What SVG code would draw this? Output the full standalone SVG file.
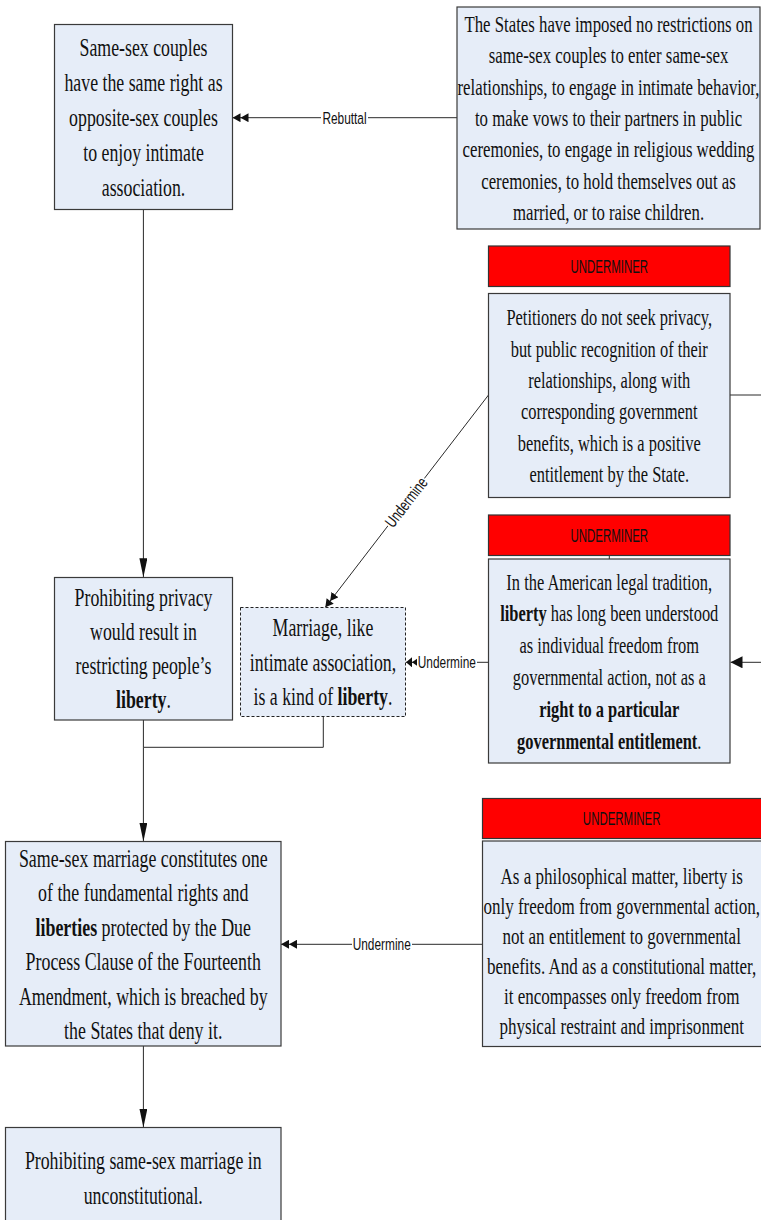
<svg xmlns="http://www.w3.org/2000/svg" width="761" height="1220" viewBox="0 0 761 1220">
<style>
.box{fill:#E6EDF8;stroke:#3a3a3a;stroke-width:1.2}
.dash{fill:#E6EDF8;stroke:#222;stroke-width:1;stroke-dasharray:3 2}
.red{fill:#FF0000;stroke:#333;stroke-width:1.2}
.t{font-family:"Liberation Serif","Times New Roman",serif;fill:#111;text-anchor:middle}
.f26{font-size:26px}
.f24{font-size:24px}
.b{font-weight:bold}
.hd{font-family:"Liberation Sans",Arial,sans-serif;font-size:18.5px;fill:#111;text-anchor:middle}
.lbl{font-family:"Liberation Sans",Arial,sans-serif;font-size:16.5px;fill:#111;text-anchor:middle}
.ln{fill:none;stroke:#2a2a2a;stroke-width:1}
</style>
<defs>
<marker id="arrDown" markerUnits="userSpaceOnUse" markerWidth="19" markerHeight="8" refX="19" refY="4" orient="auto">
<path d="M0,0 L19,4 L0,8 Z" fill="#111"/>
</marker>
<marker id="dbl" markerUnits="userSpaceOnUse" markerWidth="16" markerHeight="9" refX="16" refY="4.5" orient="auto">
<path d="M0,0 L8,4.5 L0,9 Z M8,0 L16,4.5 L8,9 Z" fill="#111"/>
</marker>
<marker id="dblS" markerUnits="userSpaceOnUse" markerWidth="11" markerHeight="10" refX="11" refY="5" orient="auto">
<path d="M0,1.5 L5,5 L0,8.5 Z M5,0 L11,5 L5,10 Z" fill="#111"/>
</marker>
<marker id="single" markerUnits="userSpaceOnUse" markerWidth="12" markerHeight="12" refX="12" refY="6" orient="auto">
<path d="M0,0 L12,6 L0,12 Z" fill="#111"/>
</marker>
</defs>

<g id="connectors">
<path class="ln" d="M143.4,209.5 V577.3" marker-end="url(#arrDown)"/>
<path class="ln" d="M143.4,720 V747.3 M323.3,716.7 V747.3 H143.4"/>
<path class="ln" d="M143.4,747.3 V841.5" marker-end="url(#arrDown)"/>
<path class="ln" d="M143.4,1046 V1127.5" marker-end="url(#arrDown)"/>
<path class="ln" d="M457,117.7 H232.5" marker-end="url(#dbl)"/>
<rect x="321" y="110" width="47" height="15" fill="#fff"/>
<text class="lbl" transform="translate(344.5,123.6) scale(0.72,1)">Rebuttal</text>
<path class="ln" d="M488.5,395 L325.3,607.3" marker-end="url(#dbl)"/>
<g transform="translate(406,502) rotate(-52.4)">
<rect x="-30" y="-7.5" width="60" height="15" fill="#fff"/>
<text class="lbl" transform="scale(0.72,1)" y="6">Undermine</text>
</g>
<path class="ln" d="M488.5,662.3 H406" marker-end="url(#dblS)"/>
<rect x="417" y="655" width="60" height="15" fill="#fff"/>
<text class="lbl" transform="translate(446.8,668.2) scale(0.72,1)">Undermine</text>
<path class="ln" d="M730,395 H780 V662.3 H730.5" marker-end="url(#single)"/>
<path class="ln" d="M482.5,944.3 H281" marker-end="url(#dbl)"/>
<rect x="352" y="937" width="60" height="15" fill="#fff"/>
<text class="lbl" transform="translate(381.7,950.2) scale(0.72,1)">Undermine</text>
<path class="ln" d="M609.3,555.7 V559"/>
</g>

<g id="node-intimate">
<rect class="box" x="54.5" y="24.5" width="178" height="185"/>
<g class="t f26" transform="translate(143.5,0) scale(0.685,1)">
<text y="55.6">Same-sex couples</text>
<text y="90.6">have the same right as</text>
<text y="125.6">opposite-sex couples</text>
<text y="160.6">to enjoy intimate</text>
<text y="195.6">association.</text>
</g>
</g>

<g id="node-states">
<rect class="box" x="457" y="7" width="303" height="222"/>
<g class="t f24" transform="translate(608.5,0) scale(0.7,1)">
<text y="31.8">The States have imposed no restrictions on</text>
<text y="63.2">same-sex couples to enter same-sex</text>
<text y="94.6">relationships, to engage in intimate behavior,</text>
<text y="126">to make vows to their partners in public</text>
<text y="157.4">ceremonies, to engage in religious wedding</text>
<text y="188.8">ceremonies, to hold themselves out as</text>
<text y="220.2">married, or to raise children.</text>
</g>
</g>

<g id="node-petitioners">
<rect class="red" x="488.5" y="246" width="241.5" height="40.5"/>
<text class="hd" transform="translate(609.25,272.7) scale(0.62,1)">UNDERMINER</text>
<rect class="box" x="488.5" y="293.5" width="241.5" height="204"/>
<g class="t f24" transform="translate(609.25,0) scale(0.685,1)">
<text y="325.5">Petitioners do not seek privacy,</text>
<text y="356.8">but public recognition of their</text>
<text y="388.1">relationships, along with</text>
<text y="419.4">corresponding government</text>
<text y="450.7">benefits, which is a positive</text>
<text y="482">entitlement by the State.</text>
</g>
</g>

<g id="node-tradition">
<rect class="red" x="488.5" y="515" width="241.5" height="40.5"/>
<text class="hd" transform="translate(609.25,541.8) scale(0.62,1)">UNDERMINER</text>
<rect class="box" x="488.5" y="559" width="241.5" height="204"/>
<g class="t f24" transform="translate(609.25,0) scale(0.685,1)">
<text y="589.6">In the American legal tradition,</text>
<text y="621.5"><tspan class="b">liberty</tspan> has long been understood</text>
<text y="653.4">as individual freedom from</text>
<text y="685.3">governmental action, not as a</text>
<text y="717.2" class="b">right to a particular</text>
<text y="749"><tspan class="b">governmental entitlement</tspan>.</text>
</g>
</g>

<g id="node-privacy">
<rect class="box" x="54.5" y="577.5" width="178" height="142.5"/>
<g class="t f26" transform="translate(143.5,0) scale(0.685,1)">
<text y="606.5">Prohibiting privacy</text>
<text y="640.5">would result in</text>
<text y="674.5">restricting people’s</text>
<text y="708.5"><tspan class="b">liberty</tspan>.</text>
</g>
</g>

<g id="node-marriage-liberty">
<rect class="dash" x="240.5" y="607.5" width="165" height="109"/>
<g class="t f26" transform="translate(323,0) scale(0.685,1)">
<text y="636.3">Marriage, like</text>
<text y="670.8">intimate association,</text>
<text y="705.3">is a kind of <tspan class="b">liberty</tspan>.</text>
</g>
</g>

<g id="node-philosophical">
<rect class="red" x="482.5" y="798.5" width="282" height="40"/>
<text class="hd" transform="translate(621.7,824.8) scale(0.62,1)">UNDERMINER</text>
<rect class="box" x="482.5" y="841" width="282" height="205.5"/>
<g class="t f24" transform="translate(621.7,0) scale(0.71,1)">
<text y="884.5">As a philosophical matter, liberty is</text>
<text y="914.4">only freedom from governmental action,</text>
<text y="944.3">not an entitlement to governmental</text>
<text y="974.2">benefits. And as a constitutional matter,</text>
<text y="1004.1">it encompasses only freedom from</text>
<text y="1034">physical restraint and imprisonment</text>
</g>
</g>

<g id="node-fundamental">
<rect class="box" x="5.5" y="841.5" width="275.5" height="204.5"/>
<g class="t f26" transform="translate(143.25,0) scale(0.688,1)">
<text y="866.6">Same-sex marriage constitutes one</text>
<text y="901.1">of the fundamental rights and</text>
<text y="935.6"><tspan class="b">liberties</tspan> protected by the Due</text>
<text y="970.1">Process Clause of the Fourteenth</text>
<text y="1004.6">Amendment, which is breached by</text>
<text y="1039.1">the States that deny it.</text>
</g>
</g>

<g id="node-conclusion">
<rect class="box" x="5.5" y="1127.5" width="275.5" height="110"/>
<g class="t f26" transform="translate(143.25,0) scale(0.685,1)">
<text y="1169">Prohibiting same-sex marriage in</text>
<text y="1204">unconstitutional.</text>
</g>
</g>
</svg>
